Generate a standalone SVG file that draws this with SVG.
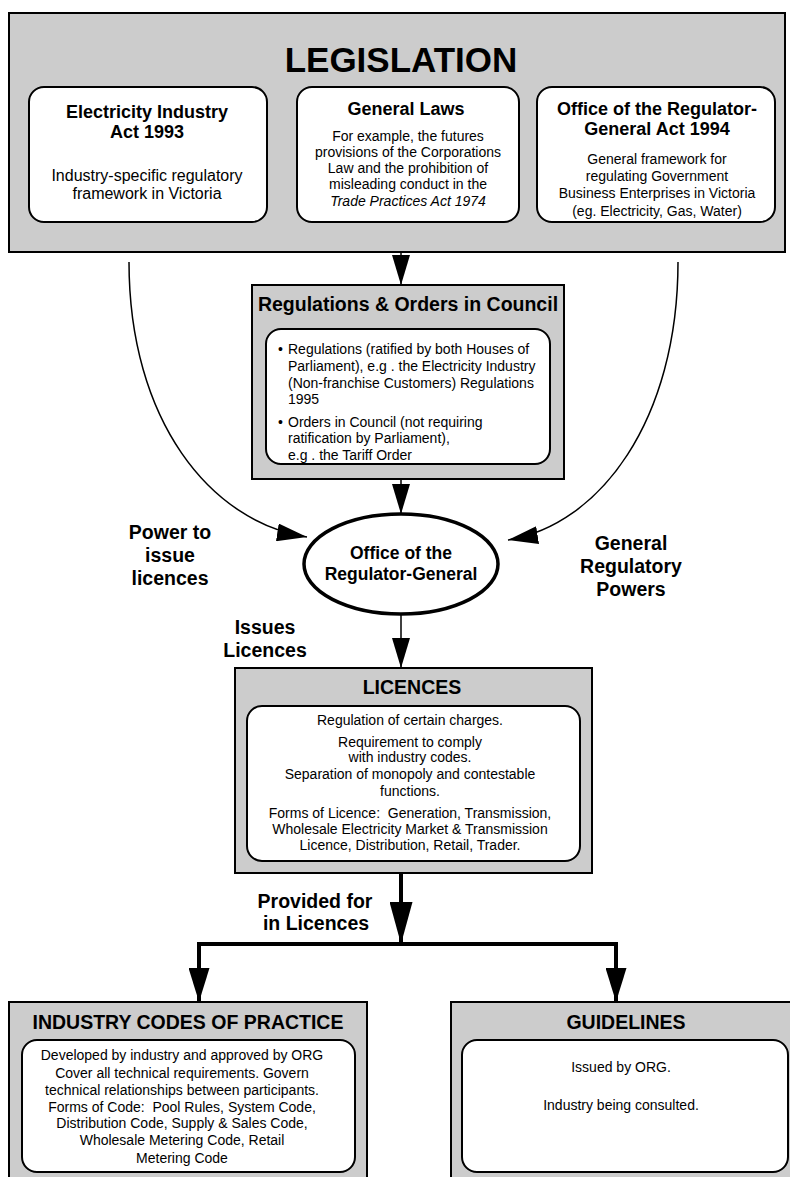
<svg xmlns="http://www.w3.org/2000/svg" width="790" height="1177" viewBox="0 0 790 1177">
<style>
text{font-family:"Liberation Sans",Arial,Helvetica,sans-serif;fill:#000;text-anchor:middle;white-space:pre}
.outer{fill:#cccccc;stroke:#000;stroke-width:2}
.inner{fill:#fff;stroke:#000;stroke-width:2}
.h1{font-size:35px;font-weight:bold}
.h2{font-size:19.5px;font-weight:bold}
.h3{font-size:18px;font-weight:bold}
.b{font-size:14px}
.bl{font-size:14px;text-anchor:start}
.lab{font-size:19.5px;font-weight:bold}
.thin{fill:none;stroke:#000;stroke-width:1.5}
.thick{fill:none;stroke:#000;stroke-width:4;stroke-linejoin:miter}
</style>
<defs>
<marker id="ah" markerUnits="userSpaceOnUse" markerWidth="30" markerHeight="18" refX="30" refY="9" orient="auto"><path d="M0,0 L30,9 L0,18 Z" fill="#000"/></marker>
<marker id="ahT" markerUnits="userSpaceOnUse" markerWidth="34" markerHeight="21" refX="34" refY="10.5" orient="auto"><path d="M0,0 L34,10.5 L0,21 Z" fill="#000"/></marker>
<marker id="ahL" markerUnits="userSpaceOnUse" markerWidth="42" markerHeight="23" refX="42" refY="11.5" orient="auto"><path d="M0,0 L42,11.5 L0,23 Z" fill="#000"/></marker>
</defs>

<g id="connectors">
<path class="thin" d="M401,252 L401,285" marker-end="url(#ah)"/>
<path class="thin" d="M401,479 L401,514" marker-end="url(#ah)"/>
<path class="thin" d="M401,615 L401,668" marker-end="url(#ah)"/>
<path class="thin" d="M129,262 C129,420 210,522 307,537" marker-end="url(#ah)"/>
<path class="thin" d="M678,262 C678,420 600,525 508,540" marker-end="url(#ah)"/>
<path class="thick" d="M401,873 L401,944" marker-end="url(#ahL)"/>
<path class="thick" d="M401,944 L199,944 L199,1002" marker-end="url(#ahT)"/>
<path class="thick" d="M401,944 L616,944 L616,1002" marker-end="url(#ahT)"/>
</g>

<g id="legislation">
<rect class="outer" x="9" y="13" width="776" height="239"/>
<text class="h1" x="401" y="72">LEGISLATION</text>
</g>
<g id="electricity-act">
<rect class="inner" x="29" y="87" width="238" height="135" rx="15"/>
<text class="h3" x="147" y="118">Electricity Industry</text>
<text class="h3" x="147" y="138">Act 1993</text>
<text class="b" x="147" y="181" style="font-size:16px">Industry-specific regulatory</text>
<text class="b" x="147" y="199" style="font-size:16px">framework in Victoria</text>
</g>
<g id="general-laws">
<rect class="inner" x="297" y="87" width="222" height="135" rx="15"/>
<text class="h3" x="406" y="115">General Laws</text>
<text class="b" x="408" y="141">For example, the futures</text>
<text class="b" x="408" y="157">provisions of the Corporations</text>
<text class="b" x="408" y="173">Law and the prohibition of</text>
<text class="b" x="408" y="189">misleading conduct in the</text>
<text class="b" x="408" y="206" font-style="italic">Trade Practices Act 1974</text>
</g>
<g id="org-act">
<rect class="inner" x="537" y="87" width="238" height="135" rx="15"/>
<text class="h3" x="657" y="115">Office of the Regulator-</text>
<text class="h3" x="657" y="135">General Act 1994</text>
<text class="b" x="657" y="164">General framework for</text>
<text class="b" x="657" y="181">regulating Government</text>
<text class="b" x="657" y="198">Business Enterprises in Victoria</text>
<text class="b" x="657" y="216">(eg. Electricity, Gas, Water)</text>
</g>

<g id="regulations">
<rect class="outer" x="252" y="285" width="312" height="194"/>
<text class="h2" x="408" y="311">Regulations &amp; Orders in Council</text>
<rect class="inner" x="266" y="329" width="284" height="135" rx="15"/>
<text class="bl" x="278" y="354">•</text>
<text class="bl" x="288" y="354">Regulations (ratified by both Houses of</text>
<text class="bl" x="288" y="371">Parliament), e.g . the Electricity Industry</text>
<text class="bl" x="288" y="388">(Non-franchise Customers) Regulations</text>
<text class="bl" x="288" y="404">1995</text>
<text class="bl" x="278" y="427">•</text>
<text class="bl" x="288" y="427">Orders in Council (not requiring</text>
<text class="bl" x="288" y="443">ratification by Parliament),</text>
<text class="bl" x="288" y="460">e.g . the Tariff Order</text>
</g>

<g id="org">
<ellipse cx="401" cy="564" rx="97" ry="50" fill="#fff" stroke="#000" stroke-width="3.5"/>
<text class="h3" x="401" y="559" style="font-size:17.5px">Office of the</text>
<text class="h3" x="401" y="580" style="font-size:17.5px">Regulator-General</text>
</g>

<g id="label-power">
<text class="lab" x="170" y="539">Power to</text>
<text class="lab" x="170" y="562">issue</text>
<text class="lab" x="170" y="585">licences</text>
</g>
<g id="label-general">
<text class="lab" x="631" y="550">General</text>
<text class="lab" x="631" y="573">Regulatory</text>
<text class="lab" x="631" y="596">Powers</text>
</g>
<g id="label-issues">
<text class="lab" x="265" y="634">Issues</text>
<text class="lab" x="265" y="657">Licences</text>
</g>

<g id="licences">
<rect class="outer" x="235" y="668" width="357" height="205"/>
<text class="h2" x="412" y="694">LICENCES</text>
<rect class="inner" x="247" y="706" width="333" height="155" rx="15"/>
<text class="b" x="410" y="725">Regulation of certain charges.</text>
<text class="b" x="410" y="747">Requirement to comply</text>
<text class="b" x="410" y="762">with industry codes.</text>
<text class="b" x="410" y="779">Separation of monopoly and contestable</text>
<text class="b" x="410" y="796">functions.</text>
<text class="b" x="410" y="818">Forms of Licence:  Generation, Transmission,</text>
<text class="b" x="410" y="834">Wholesale Electricity Market &amp; Transmission</text>
<text class="b" x="410" y="850">Licence, Distribution, Retail, Trader.</text>
</g>

<g id="label-provided">
<text class="lab" x="315" y="908">Provided for</text>
<text class="lab" x="316" y="930">in Licences</text>
</g>

<g id="codes">
<rect class="outer" x="9" y="1002" width="358" height="190"/>
<text class="h2" x="188" y="1029">INDUSTRY CODES OF PRACTICE</text>
<rect class="inner" x="22" y="1040" width="333" height="132" rx="15"/>
<text class="b" x="182" y="1060">Developed by industry and approved by ORG</text>
<text class="b" x="182" y="1078">Cover all technical requirements. Govern</text>
<text class="b" x="182" y="1095">technical relationships between participants.</text>
<text class="b" x="182" y="1112">Forms of Code:  Pool Rules, System Code,</text>
<text class="b" x="182" y="1128">Distribution Code, Supply &amp; Sales Code,</text>
<text class="b" x="182" y="1145">Wholesale Metering Code, Retail</text>
<text class="b" x="182" y="1163">Metering Code</text>
</g>

<g id="guidelines">
<rect class="outer" x="451" y="1002" width="350" height="190"/>
<text class="h2" x="626" y="1029">GUIDELINES</text>
<rect class="inner" x="462" y="1040" width="326" height="132" rx="15"/>
<text class="b" x="621" y="1072">Issued by ORG.</text>
<text class="b" x="621" y="1110">Industry being consulted.</text>
</g>
</svg>
